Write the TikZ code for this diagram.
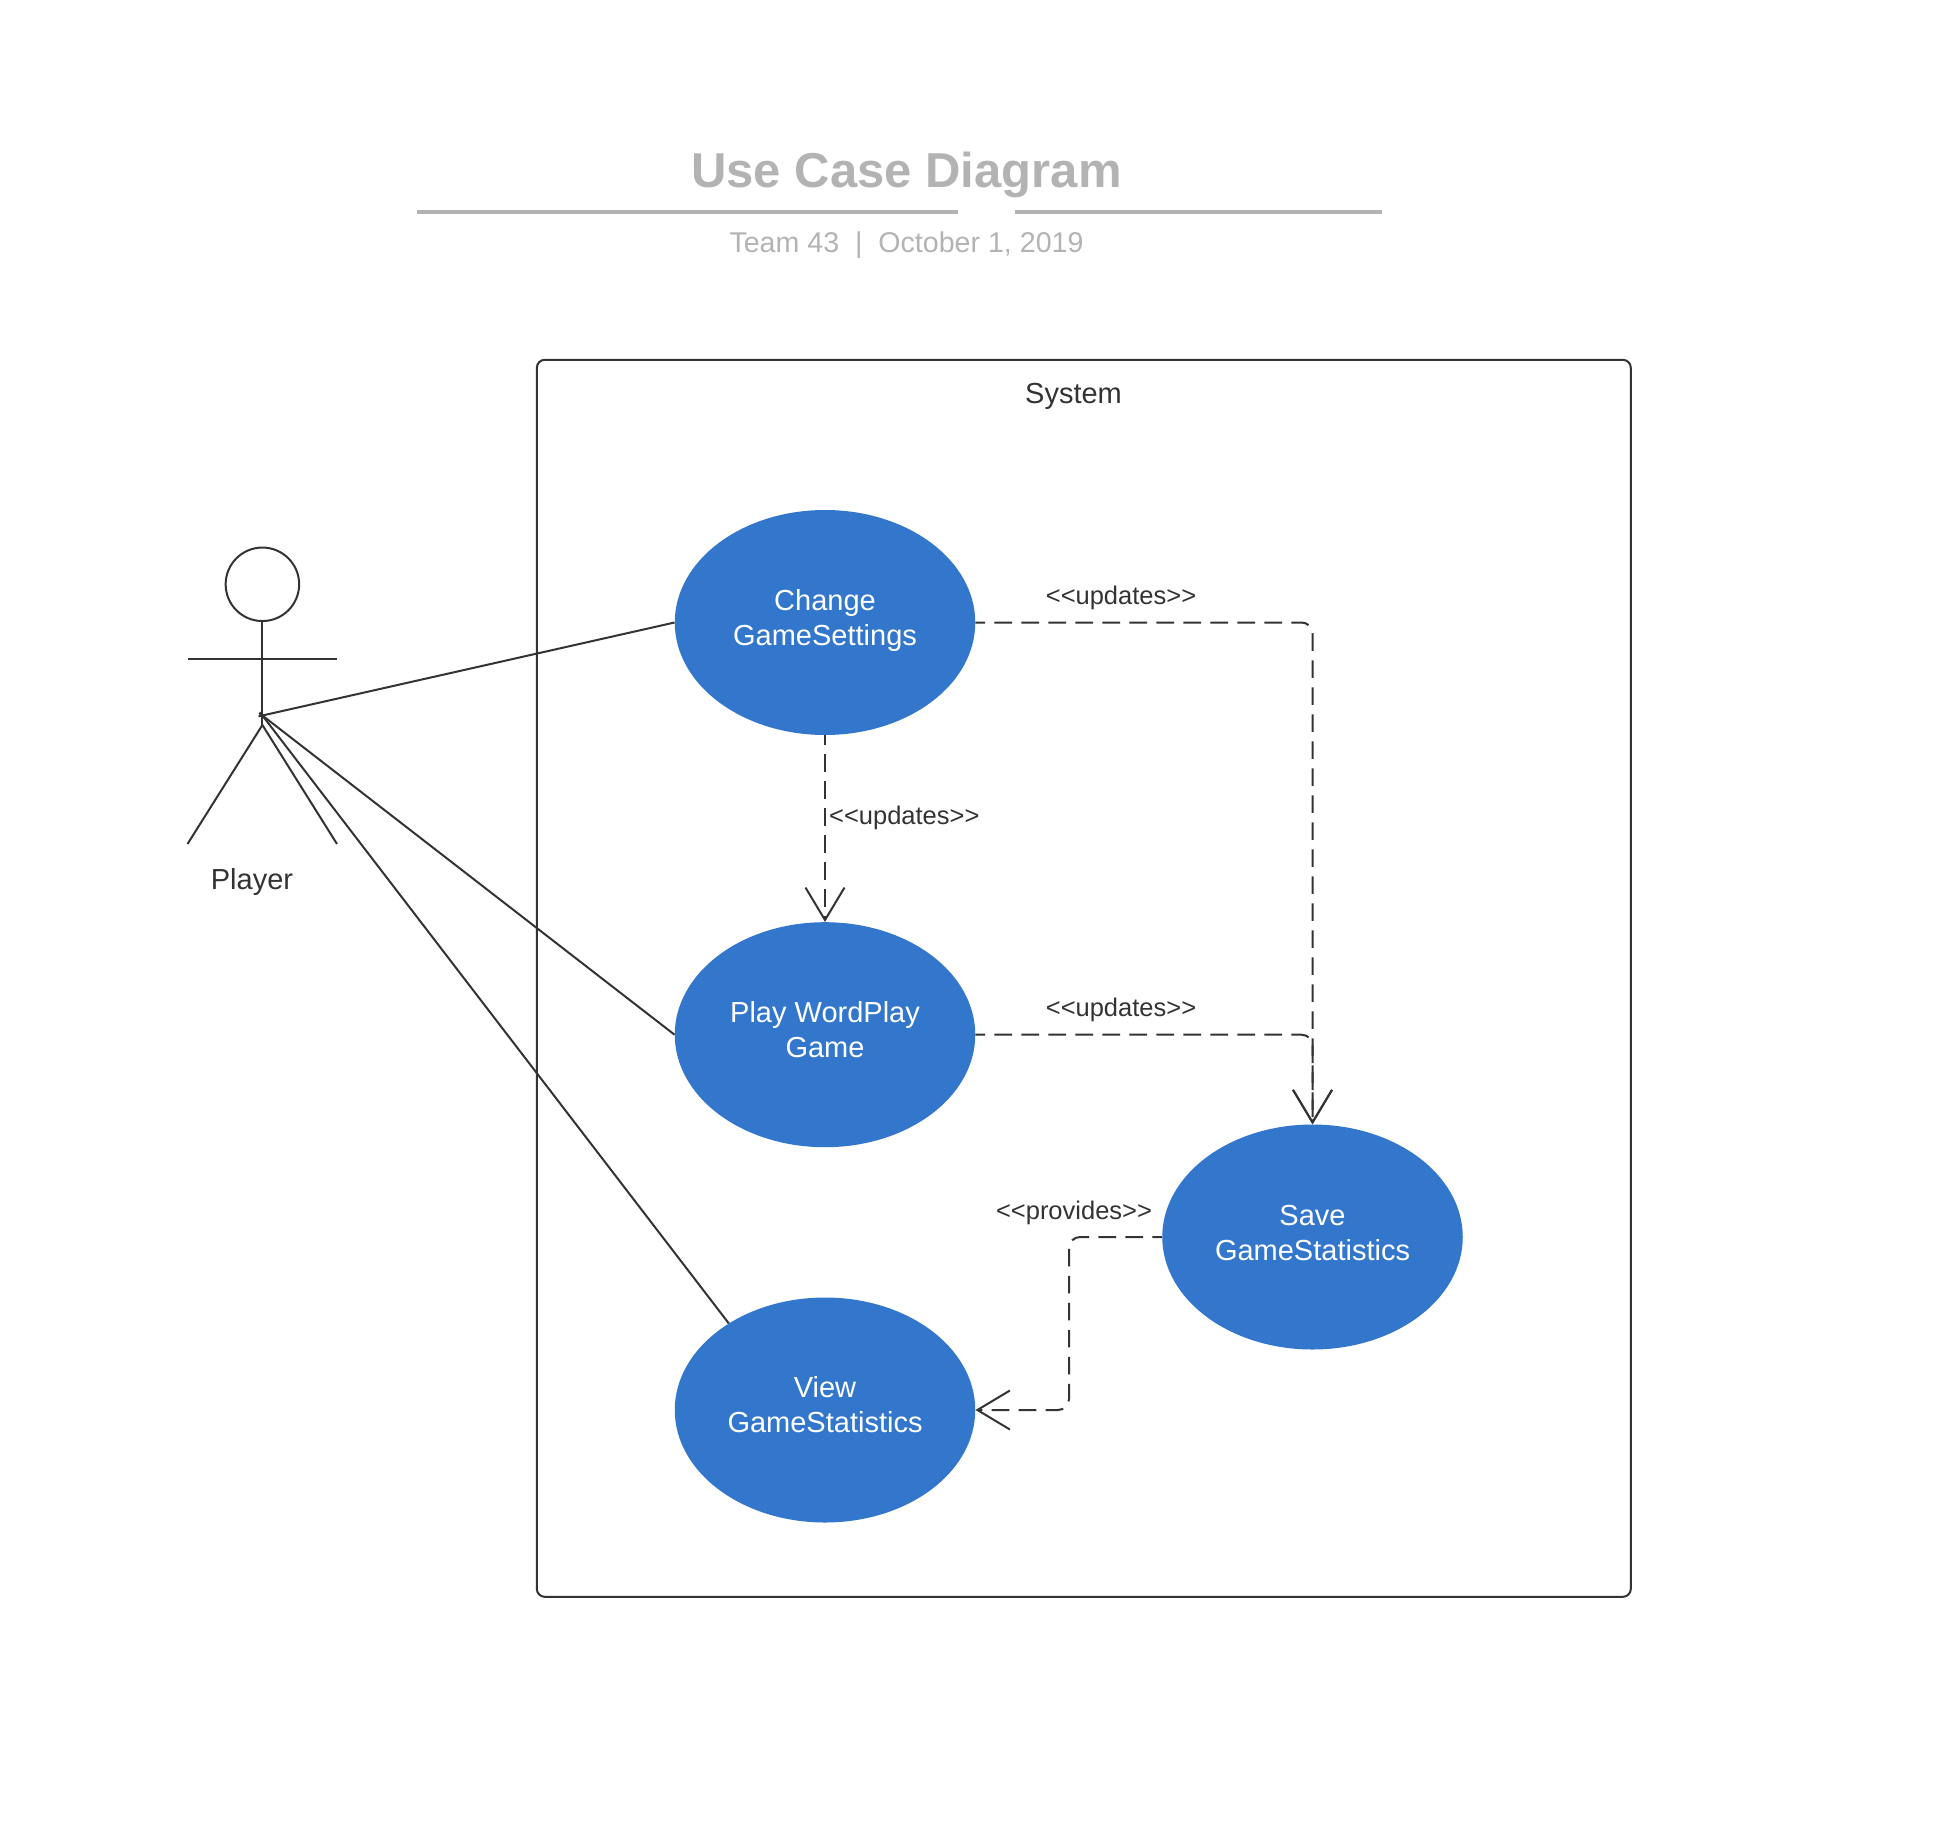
\documentclass[tikz,border=0pt]{standalone}
\usepackage{fontspec}
\setmainfont{Liberation Sans}
\usetikzlibrary{shapes.geometric,arrows.meta,calc}
\definecolor{ink}{HTML}{333333}
\definecolor{muted}{HTML}{B3B3B3}
\definecolor{ucblue}{HTML}{3377CC}
\newcommand\ucTop{\rule{0pt}{24.4pt}}
\newcommand\ucBot[1]{\rule[-#1pt]{0pt}{1pt}}
\tikzset{
  ink line/.style={draw=ink,line width=2pt},
  usecase/.style={ellipse,fill=ucblue,text=white,minimum width=300.5pt,minimum height=225pt,inner sep=0pt,align=center,font=\fontsize{29}{35}\selectfont},
  dep/.style={draw=ink,line width=2pt,dash pattern=on 17.7pt off 9.3pt,dash phase=8pt,rounded corners=11pt,-{Straight Barb[length=32.5pt,width=39pt,line width=2pt,sep=0pt]}},
  deplabel/.style={text=ink,inner sep=0pt,font=\fontsize{25.5}{30}\selectfont},
  biglabel/.style={text=ink,inner sep=0pt,font=\fontsize{29}{35}\selectfont},
}
\begin{document}
\begin{tikzpicture}[x=1pt,y=-1pt]
\useasboundingbox (0,0) rectangle (1956,1844);
% header
\node[inner sep=0pt,text=muted,font=\fontsize{49}{58}\selectfont\bfseries,anchor=base] (title) at (906.5,187) {Use Case Diagram};
\coordinate (ruleA) at (417,211.5);
\coordinate (ruleB) at (958,211.5);
\coordinate (ruleC) at (1015,211.5);
\coordinate (ruleD) at (1382,211.5);
\draw[muted,line width=4pt] (ruleA) -- (ruleB);
\draw[muted,line width=4pt] (ruleC) -- (ruleD);
\node[inner sep=0pt,text=muted,font=\fontsize{28.6}{34}\selectfont,anchor=base] (subtitle) at (906.5,252) {Team 43~~|~~October 1, 2019};
% system boundary
\node[draw=ink,line width=2pt,rounded corners=8pt,minimum width=1094pt,minimum height=1237pt,inner sep=0pt,anchor=north west] (system) at (535.8,358.8) {};
\node[biglabel,anchor=base] (systemlabel) at (1073.5,403) {System};
% use cases
\node[usecase] (change) at (825,622.5) {\ucTop Change\\GameSettings\ucBot{12.5}};
\node[usecase] (play) at (825,1034.7) {\ucTop Play WordPlay\\Game\ucBot{13.8}};
\node[usecase] (save) at (1312.5,1237) {\ucTop Save\\GameStatistics\ucBot{12}};
\node[usecase] (view) at (825,1410) {\ucTop View\\GameStatistics\ucBot{14}};
% actor
\node[circle,draw=ink,line width=2pt,minimum size=73.5pt,inner sep=0pt] (head) at (262.4,584.3) {};
\coordinate (armL) at (187.5,658.8);
\coordinate (armR) at (337,658.8);
\coordinate (hip) at (262.4,725);
\coordinate (legL) at (187.5,844);
\coordinate (legR) at (337,844);
\coordinate (hub) at (262.4,715.5);
\draw[ink line] (head.south) -- (hip);
\draw[ink line] (armL) -- (armR);
\draw[ink line] (legL) -- (hip) -- (legR);
\node[biglabel,anchor=base] (player) at (252,889.5) {Player};
% associations
\draw[ink line] ($(hub)!-4pt!(change.west)$) -- (change.west);
\draw[ink line] ($(hub)!-4pt!(play.west)$) -- (play.west);
\draw[ink line] ($(hub)!-4pt!(view.138)$) -- (view.138);
% dependencies
\draw[dep] (change.south) -- (play.north);
\draw[dep] (change.east) -| (save.north);
\draw[dep] (play.east) -| (save.north);
\coordinate (bendX) at (1069,1237);
\draw[dep] (save.west) -- (bendX) |- (view.east);
% labels
\node[deplabel] (l1) at (1121,598) {<{}<updates>{}>};
\node[deplabel] (l2) at (904.3,818) {<{}<updates>{}>};
\node[deplabel] (l3) at (1121,1010) {<{}<updates>{}>};
\node[deplabel] (l4) at (1074,1213) {<{}<provides>{}>};
\end{tikzpicture}
\end{document}
